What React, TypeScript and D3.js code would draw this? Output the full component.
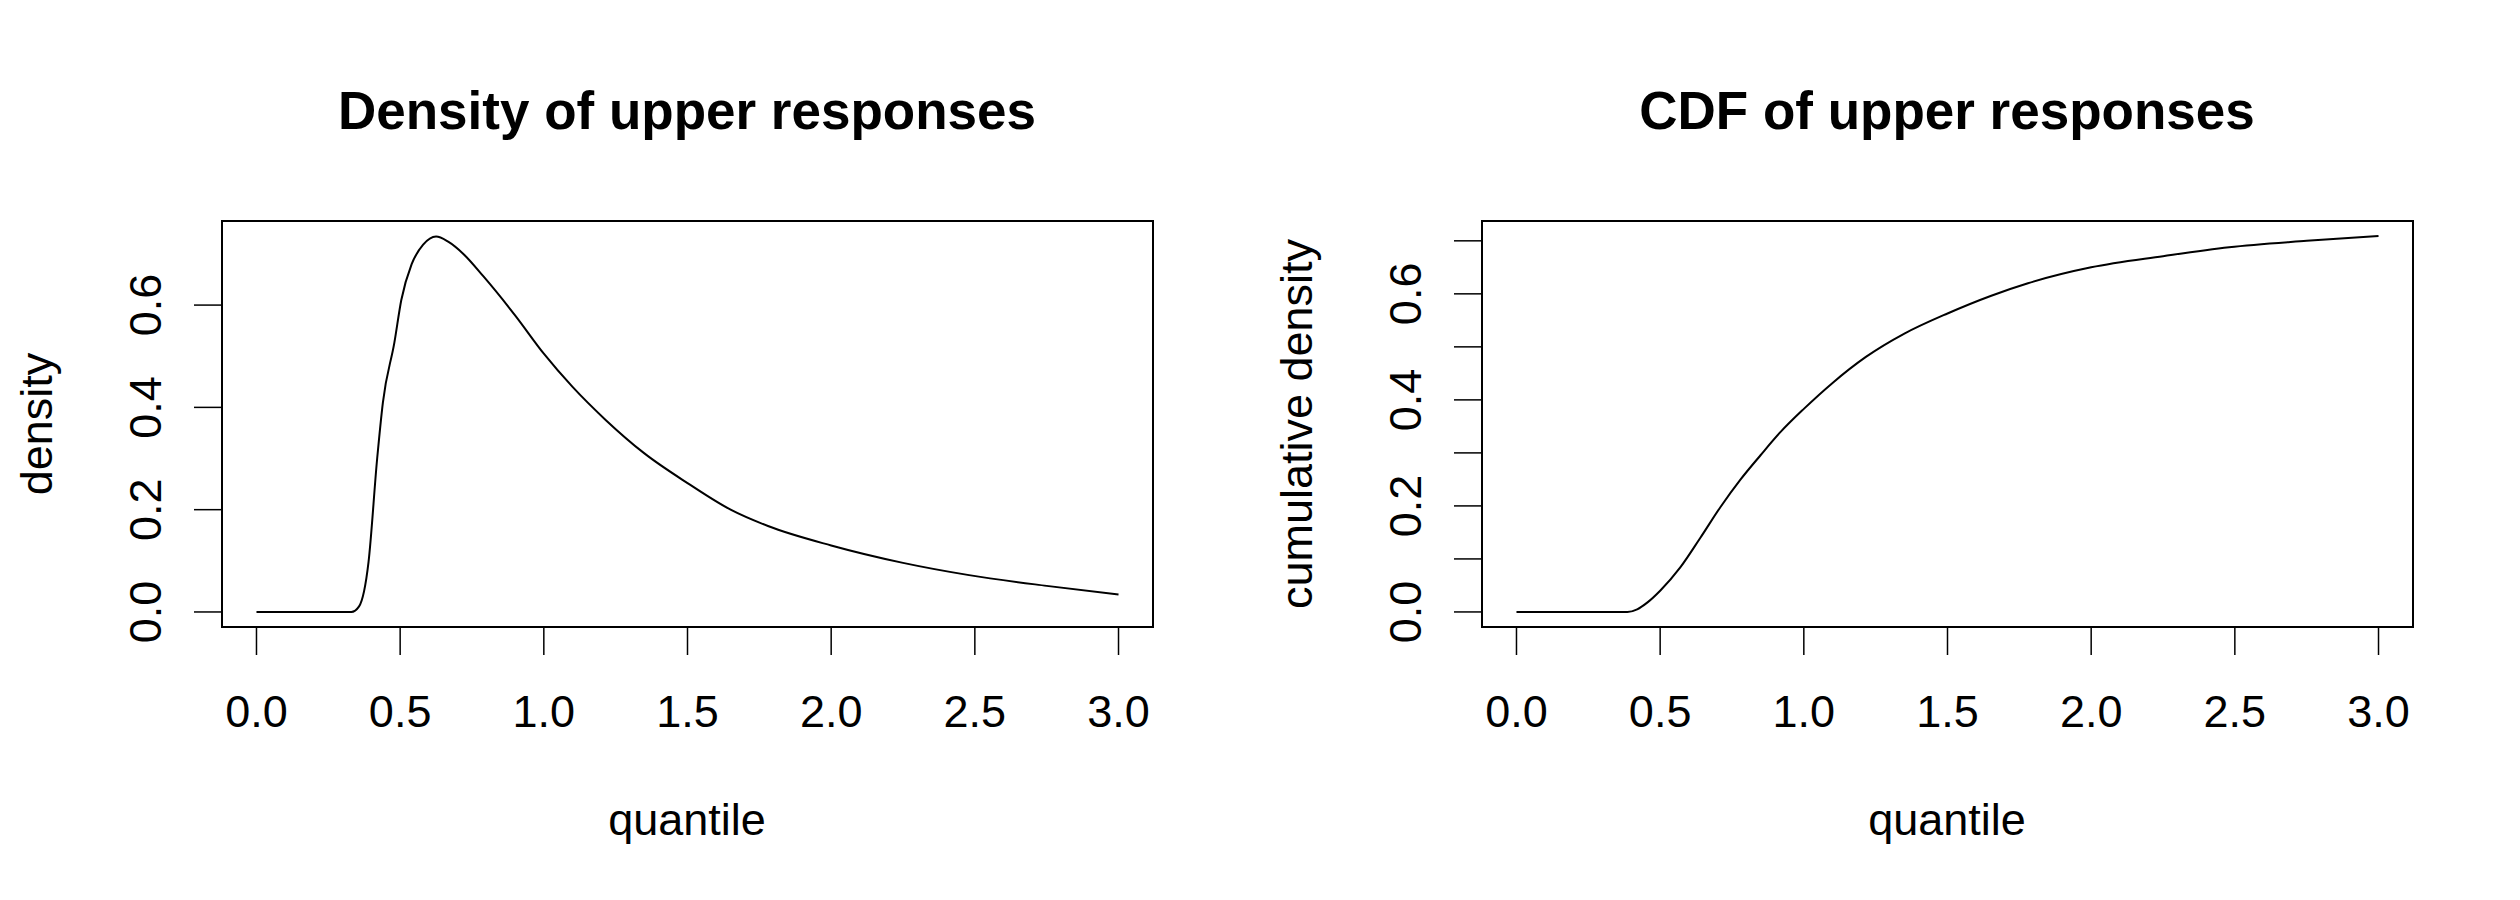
import React, { useEffect, useRef } from "react";
import * as d3 from "d3";

const WIDTH = 2520;
const HEIGHT = 900;

// density of upper responses
const densityX = [0, 0.33, 0.357, 0.39, 0.42, 0.44, 0.48, 0.504, 0.54, 0.58, 0.625, 0.667, 0.72, 0.79, 0.9, 1.0, 1.1, 1.216, 1.35, 1.5, 1.65, 1.78, 2.0, 2.25, 2.48, 2.75, 3.0];
const densityY = [0, 0, 0.011, 0.098, 0.3, 0.41, 0.527, 0.61, 0.68, 0.718, 0.734, 0.724, 0.7, 0.656, 0.58, 0.505, 0.44, 0.375, 0.31, 0.252, 0.2, 0.168, 0.13, 0.096, 0.072, 0.051, 0.034];

// CDF of upper responses
const cdfX = [0, 0.386, 0.42, 0.456, 0.5, 0.57, 0.64, 0.71, 0.78, 0.85, 0.92, 1.0, 1.1, 1.216, 1.35, 1.5, 1.65, 1.78, 2.0, 2.25, 2.48, 2.75, 3.0];
const cdfY = [0, 0, 0.005, 0.018, 0.04, 0.084, 0.14, 0.198, 0.25, 0.296, 0.34, 0.383, 0.432, 0.481, 0.525, 0.563, 0.596, 0.62, 0.65, 0.671, 0.688, 0.7, 0.709];

const xTicks = [0, 0.5, 1, 1.5, 2, 2.5, 3];
const densityTicks = [0, 0.2, 0.4, 0.6];
const cdfTicks = [0, 0.1, 0.2, 0.3, 0.4, 0.5, 0.6, 0.7];
const cdfLabels = [0, 0.2, 0.4, 0.6];

const FONT = "'Liberation Sans', Arial, sans-serif";

interface Panel {
  left: number;
  title: string;
  ylab: string;
  xs: number[];
  ys: number[];
  yDomain: [number, number];
  yTicks: number[];
  yLabels: number[];
}

const panels: Panel[] = [
  { left: 0, title: "Density of upper responses", ylab: "density", xs: densityX, ys: densityY, yDomain: [-0.0294, 0.7644], yTicks: densityTicks, yLabels: densityTicks },
  { left: 1260, title: "CDF of upper responses", ylab: "cumulative density", xs: cdfX, ys: cdfY, yDomain: [-0.0284, 0.7374], yTicks: cdfTicks, yLabels: cdfLabels },
];

const App: React.FC = () => {
  const ref = useRef<SVGSVGElement | null>(null);

  useEffect(() => {
    document.body.style.margin = "0";
    if (!ref.current) return;
    const svg = d3.select(ref.current);
    svg.selectAll("*").remove();
    svg.append("rect").attr("width", WIDTH).attr("height", HEIGHT).attr("fill", "#fff");

    const top = 221, bottom = 627;
    panels.forEach((p) => {
      const g = svg.append("g").attr("transform", `translate(${p.left},0)`);
      const x = d3.scaleLinear().domain([-0.12, 3.12]).range([222, 1153]);
      const y = d3.scaleLinear().domain(p.yDomain).range([bottom, top]);

      g.append("rect").attr("x", 222).attr("y", top).attr("width", 931).attr("height", bottom - top)
        .attr("fill", "none").attr("stroke", "#000").attr("stroke-width", 2);

      const line = d3.line<number>().x((d) => x(d)).y((_, i) => y(p.ys[i])).curve(d3.curveMonotoneX);
      g.append("path").attr("d", line(p.xs)).attr("fill", "none").attr("stroke", "#000").attr("stroke-width", 2);

      // x axis
      g.append("line").attr("x1", x(0)).attr("x2", x(3)).attr("y1", bottom).attr("y2", bottom).attr("stroke", "#000").attr("stroke-width", 2);
      xTicks.forEach((t) => {
        g.append("line").attr("x1", x(t)).attr("x2", x(t)).attr("y1", bottom).attr("y2", 655).attr("stroke", "#000").attr("stroke-width", 1.5);
        g.append("text").attr("x", x(t)).attr("y", 727).attr("text-anchor", "middle")
          .attr("font-family", FONT).attr("font-size", 45).text(t.toFixed(1));
      });

      // y axis
      const y0 = y(p.yTicks[0]), y1 = y(p.yTicks[p.yTicks.length - 1]);
      g.append("line").attr("x1", 222).attr("x2", 222).attr("y1", y0).attr("y2", y1).attr("stroke", "#000").attr("stroke-width", 2);
      p.yTicks.forEach((t) => {
        g.append("line").attr("x1", 222).attr("x2", 194).attr("y1", y(t)).attr("y2", y(t)).attr("stroke", "#000").attr("stroke-width", 1.5);
      });
      p.yLabels.forEach((t) => {
        g.append("text").attr("transform", `translate(161,${y(t)}) rotate(-90)`).attr("text-anchor", "middle")
          .attr("font-family", FONT).attr("font-size", 45).text(t.toFixed(1));
      });

      g.append("text").attr("x", 687).attr("y", 129).attr("text-anchor", "middle")
        .attr("font-family", FONT).attr("font-weight", "bold").attr("font-size", 53).text(p.title);
      g.append("text").attr("x", 687).attr("y", 835).attr("text-anchor", "middle")
        .attr("font-family", FONT).attr("font-size", 45).text("quantile");
      g.append("text").attr("transform", `translate(52,${(top + bottom) / 2}) rotate(-90)`).attr("text-anchor", "middle")
        .attr("font-family", FONT).attr("font-size", 45).text(p.ylab);
    });
  }, []);

  return <svg ref={ref} width={WIDTH} height={HEIGHT} style={{ display: "block" }} />;
};

export default App;
